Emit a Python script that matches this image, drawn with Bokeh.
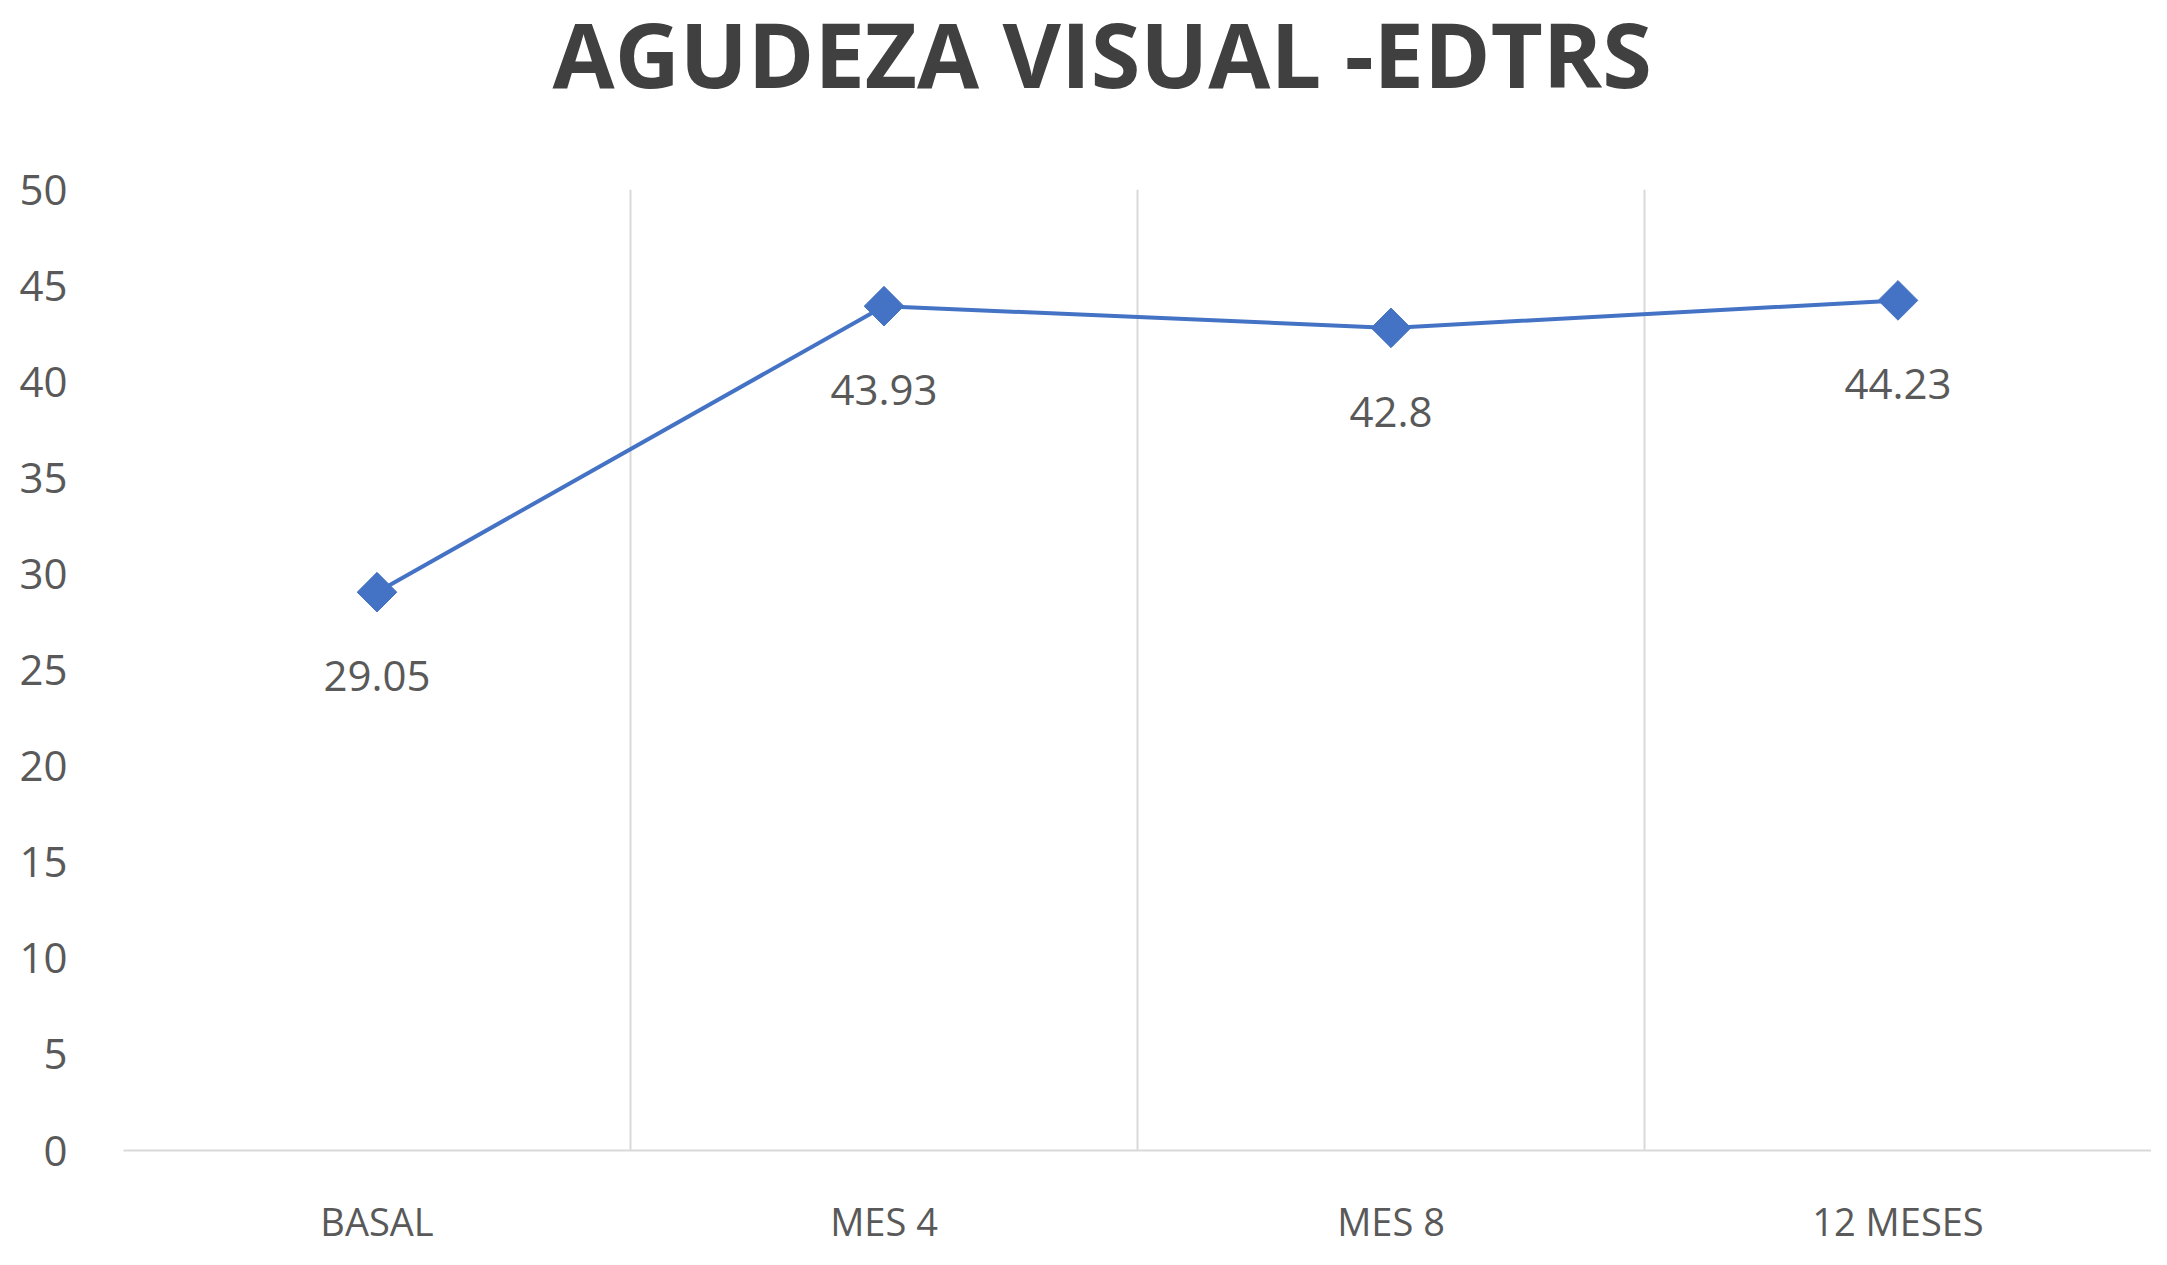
import numpy as np
from bokeh.plotting import figure
from bokeh.layouts import column
from bokeh.models import ColumnDataSource, FixedTicker, Range1d, FactorRange, Label
from bokeh.core.properties import value
from bokeh.embed import file_html
from bokeh.resources import INLINE

categories = ["BASAL", "MES 4", "MES 8", "12 MESES"]
values = [29.05, 43.93, 42.8, 44.23]
labels = ["29.05", "43.93", "42.8", "44.23"]
y_ticks = [0, 5, 10, 15, 20, 25, 30, 35, 40, 45, 50]
title_text = "AGUDEZA VISUAL -EDTRS"

FONT = "Open Sans"
LINE = "#4472C4"
GRID = "#D9D9D9"
TXT = "#595959"

W = 2151
TH = 120

# title strip
pt = figure(width=W, height=TH, x_range=Range1d(0, W), y_range=Range1d(0, TH),
            output_backend="svg", toolbar_location=None,
            x_axis_location=None, y_axis_location=None,
            min_border_left=0, min_border_right=0, min_border_top=0,
            min_border_bottom=0)
pt.grid.visible = False
pt.outline_line_color = None
pt.background_fill_color = "white"
pt.border_fill_color = "white"
pt.add_layout(Label(x=1038, y=68, text=title_text, text_font=FONT,
                    text_font_size="90px", text_font_style="bold",
                    text_color="#404040", text_align="center",
                    text_baseline="alphabetic"))

src = ColumnDataSource(dict(x=categories, y=values, lab=labels))

p = figure(width=W, height=1249 - TH, x_range=FactorRange(*categories),
           y_range=Range1d(0, 50), output_backend="svg", toolbar_location=None,
           min_border_left=123, min_border_right=0, min_border_top=189 - TH,
           min_border_bottom=91)
p.title.visible = False
p.outline_line_color = None
p.background_fill_color = "white"
p.border_fill_color = "white"

p.ygrid.grid_line_color = None
p.xgrid.ticker = FixedTicker(ticks=[0, 1, 2, 3, 4])
p.xgrid.grid_line_color = GRID
p.xgrid.grid_line_width = 2

p.yaxis.ticker = FixedTicker(ticks=y_ticks)
p.yaxis.axis_line_color = None
p.yaxis.major_tick_line_color = None
p.yaxis.minor_tick_line_color = None
p.yaxis.major_label_text_font = FONT
p.yaxis.major_label_text_font_size = "42px"
p.yaxis.major_label_text_color = TXT
p.yaxis.major_label_standoff = 50

p.xaxis.axis_line_color = GRID
p.xaxis.axis_line_width = 2
p.xaxis.major_tick_line_color = None
p.xaxis.minor_tick_line_color = None
p.xaxis.major_label_text_font = FONT
p.xaxis.major_label_text_font_size = "38px"
p.xaxis.major_label_text_color = TXT
p.xaxis.major_label_standoff = 38

p.line("x", "y", source=src, line_color=LINE, line_width=4)
p.scatter("x", "y", source=src, marker="square", angle=np.pi / 4, size=28,
          fill_color=LINE, line_color=LINE)
p.text("x", "y", text="lab", source=src, text_font=value(FONT),
       text_font_size="42px", text_color=TXT, text_align="center",
       text_baseline="top", y_offset=69)

layout = column(pt, p, spacing=0)
open("out.html", "w").write(file_html(layout, INLINE))
